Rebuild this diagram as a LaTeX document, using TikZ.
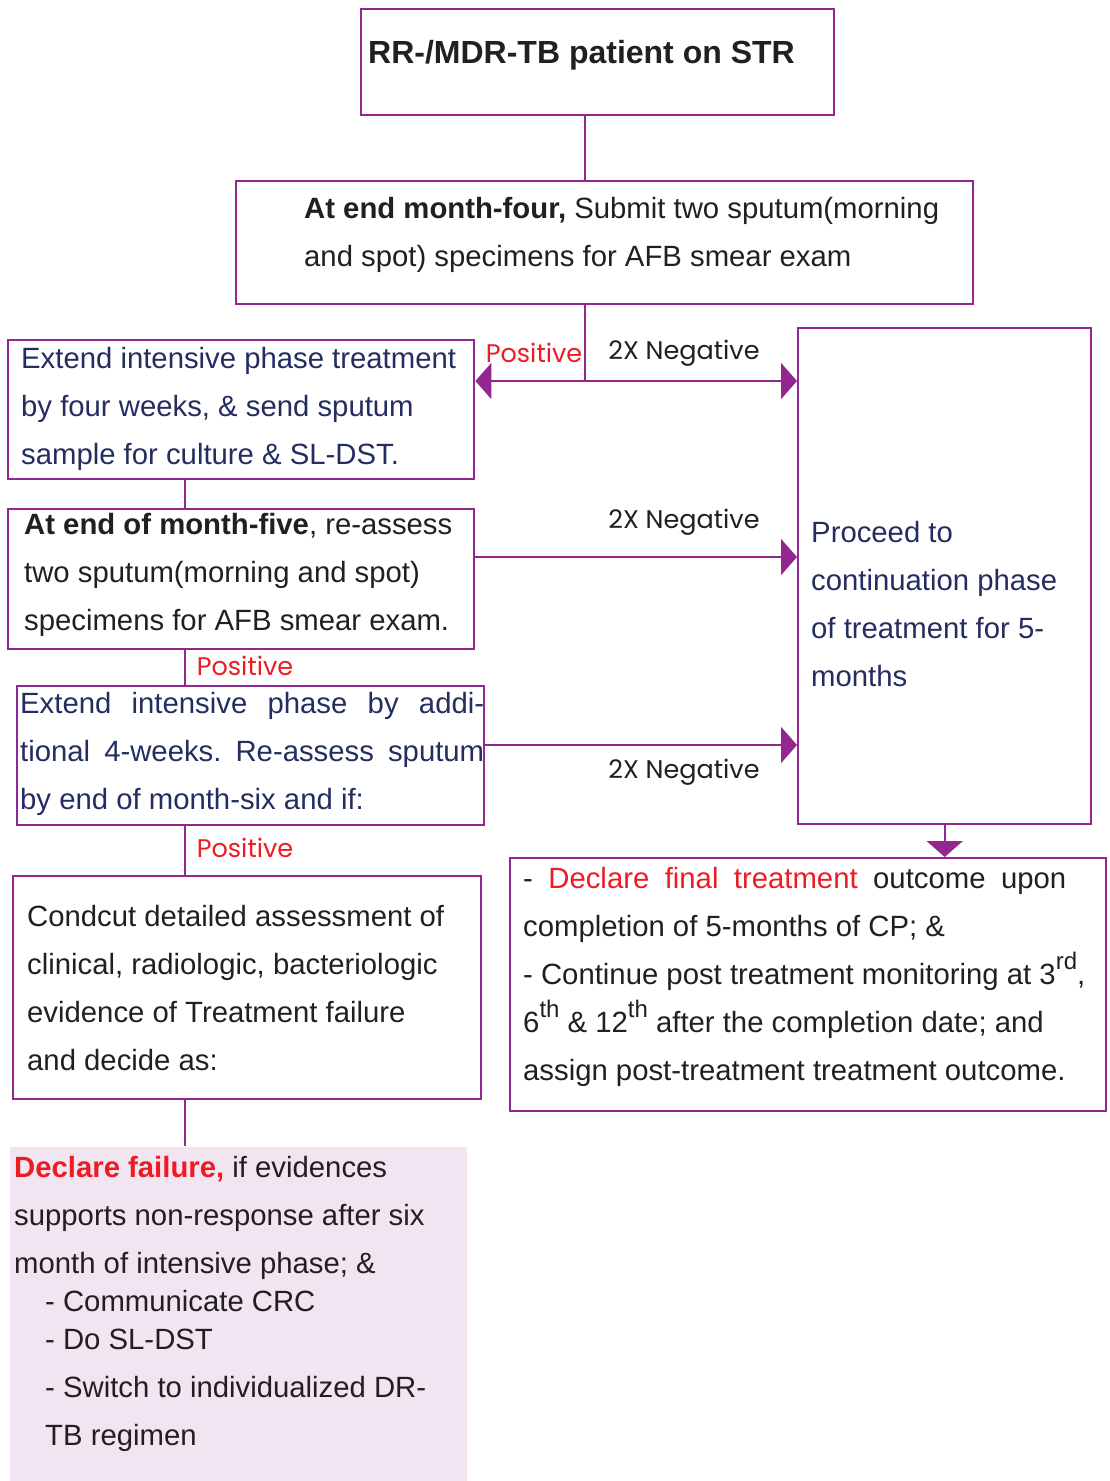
\documentclass[tikz,border=0pt]{standalone}
\usepackage{fontspec}
\setmainfont{Liberation Sans}
\newfontfamily\tagfont{Poppins}
\usetikzlibrary{arrows.meta}
\frenchspacing

\definecolor{frame}{RGB}{146,39,143}
\definecolor{ink}{RGB}{35,31,32}
\definecolor{navy}{RGB}{35,45,95}
\definecolor{alert}{RGB}{237,28,36}
\definecolor{lilac}{RGB}{241,229,241}

% text block: width, left inset, right inset, body
\newcommand\blk[4]{\parbox{#1pt}{\parindent=0pt\leftskip=#2pt\relax\rightskip=#3pt\relax
  \parfillskip=0pt plus 1fil\relax #4}}
\newcommand\ordsup[1]{\raisebox{0.52em}{\fontsize{24}{24}\selectfont #1}}

\begin{document}
\begin{tikzpicture}[x=1pt,y=-1pt,
  box/.style={draw=frame, line width=2.4pt, anchor=north west, inner sep=0pt,
              font=\fontsize{29.3}{48}\selectfont},
  conn/.style={draw=frame, line width=2.4pt},
  arr/.style={conn, -{Triangle[length=16pt,width=36pt]}},
  tag/.style={font=\tagfont\fontsize{25.5}{26}\selectfont, inner sep=0pt},
]
\useasboundingbox (0,0) rectangle (1109,1481);

% boxes
\node[box, minimum width=473, minimum height=106, text=ink,
      font=\bfseries\fontsize{32}{40}\selectfont] (b1) at (360,8)
  {\blk{473}{7}{0}{RR-/MDR-TB patient on STR\par\vspace*{14pt}}};

\node[box, minimum width=737, minimum height=123, text=ink] (b2) at (235,180)
  {\blk{737}{68}{0}{\textbf{At end month-four,} Submit two sputum(morning\\
   and spot) specimens for AFB smear exam\par\vspace*{16pt}}};

\node[box, minimum width=466, minimum height=139, text=navy] (b3) at (7,339)
  {\blk{466}{13}{0}{Extend intensive phase treatment\\
   by four weeks, \& send sputum\\
   sample for culture \& SL-DST.\par\vspace*{2pt}}};

\node[box, minimum width=466, minimum height=140, text=ink] (b4) at (7,508)
  {\blk{466}{16}{0}{\textbf{At end of month-five}, re-assess\\
   two sputum(morning and spot)\\
   specimens for AFB smear exam.\par\vspace*{8pt}}};

\node[box, minimum width=467, minimum height=139, text=navy] (b5) at (16,685)
  {\blk{467}{3}{0}{Extend intensive phase by addi-\linebreak
   tional 4-weeks. Re-assess sputum\linebreak
   by end of month-six and if:\par\vspace*{4pt}}};

\node[box, minimum width=468, minimum height=223, text=ink] (b6) at (12,875)
  {\blk{468}{14}{0}{Condcut detailed assessment of\\
   clinical, radiologic, bacteriologic\\
   evidence of Treatment failure\\
   and decide as:}};

\node[box, draw=none, fill=lilac, minimum width=457, minimum height=335, text=ink] (b7) at (9,1146)
  {\blk{457}{4}{0}{\textbf{\color{alert}Declare failure,} if evidences\\
   supports non-response after six\\
   month of intensive phase; \&\\[-10pt]
   \hspace*{31pt}- Communicate CRC\\[-10pt]
   \hspace*{31pt}- Do SL-DST\\
   \hspace*{31pt}- Switch to individualized DR-\\
   \hspace*{31pt}TB regimen\par\vspace*{22pt}}};

\node[box, minimum width=293, minimum height=496, text=navy] (rb) at (797,327)
  {\blk{293}{13}{0}{\vspace*{56pt}Proceed to\\
   continuation phase\\
   of treatment for 5-\\
   months}};

\node[box, minimum width=596, minimum height=253, text=ink] (b8) at (509,857)
  {\blk{596}{13}{0}{\makebox[543pt][s]{- \textcolor{alert}{Declare final treatment} outcome upon}\\
   completion of 5-months of CP; \&\\
   - Continue post treatment monitoring at 3\ordsup{rd},\\
   6\ordsup{th} \& 12\ordsup{th} after the completion date; and\\
   assign post-treatment treatment outcome.\par\vspace*{16pt}}};

% branch points
\coordinate (fork) at (585,381);
\coordinate (spine) at (185,0);
\coordinate (neg2) at (0,557);
\coordinate (neg3) at (0,745);

% connectors
\draw[conn] (b1.south -| fork) -- (b2.north -| fork);
\draw[conn] (b2.south -| fork) -- (fork);
\draw[arr] (fork) -- (b3.east |- fork);
\draw[arr] (fork) -- (rb.west |- fork);
\draw[conn] (b3.south -| spine) -- (b4.north -| spine);
\draw[arr] (b4.east |- neg2) -- (rb.west |- neg2);
\draw[conn] (b4.south -| spine) -- (b5.north -| spine);
\draw[arr] (b5.east |- neg3) -- (rb.west |- neg3);
\draw[conn] (b5.south -| spine) -- (b6.north -| spine);
\draw[conn] (b6.south -| spine) -- (b7.north -| spine);
\draw[arr] (rb.south) -- (b8.north -| rb.south);

% branch labels
\node[tag, text=alert] (p1) at (534,353) {Positive};
\node[tag, text=ink] (n1) at (684,353) {2X Negative};
\node[tag, text=ink] (n2) at (684,522) {2X Negative};
\node[tag, text=alert] (p2) at (245,666) {Positive};
\node[tag, text=ink] (n3) at (684,772) {2X Negative};
\node[tag, text=alert] (p3) at (245,848) {Positive};
\end{tikzpicture}
\end{document}
